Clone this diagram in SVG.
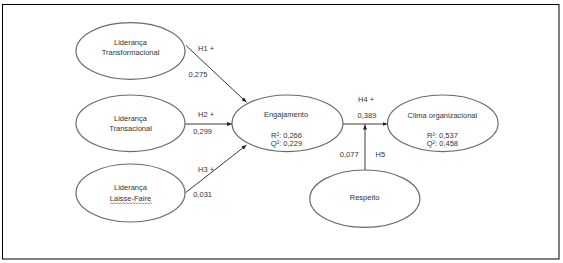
<svg xmlns="http://www.w3.org/2000/svg" width="563" height="263" viewBox="0 0 563 263">
<style>
  .node ellipse { fill: #ffffff; stroke: #6a6a6a; stroke-width: 1.2; }
  text { font-family: "Liberation Sans", Arial, sans-serif; font-size: 7.5px; fill: #333333; text-anchor: middle; }
  .edge { stroke: #3a3a3a; stroke-width: 1; fill: none; marker-end: url(#arrow); }
</style>
<defs>
  <marker id="arrow" markerUnits="userSpaceOnUse" markerWidth="5" markerHeight="4" refX="5" refY="2" orient="auto">
    <path d="M0,0 L5,2 L0,4 z" fill="#222222"/>
  </marker>
</defs>
<rect x="2.5" y="4.5" width="556.5" height="254.5" fill="#ffffff" stroke="#000000" stroke-width="1"/>

<g id="connectors">
  <line class="edge" x1="186" y1="45.5" x2="246.5" y2="102.3"/>
  <line class="edge" x1="185" y1="124" x2="232" y2="124"/>
  <line class="edge" x1="185.5" y1="192.7" x2="246.5" y2="145"/>
  <line class="edge" x1="343" y1="124" x2="387.5" y2="124"/>
  <line class="edge" x1="365" y1="170" x2="365" y2="124.5"/>
  <text x="206" y="50.5">H1 +</text>
  <text x="198" y="76.7">0,275</text>
  <text x="206" y="116.7">H2 +</text>
  <text x="202.6" y="133.7">0,299</text>
  <text x="206" y="172">H3 +</text>
  <text x="202.6" y="196.7">0,031</text>
  <text x="366" y="101.7">H4 +</text>
  <text x="367" y="118.4">0,389</text>
  <text x="349.2" y="157">0,077</text>
  <text x="380.4" y="157">H5</text>
</g>

<g id="lid-transformacional" class="node">
  <ellipse cx="130.5" cy="51" rx="54.5" ry="28.3"/>
  <text x="130.5" y="45">Liderança</text>
  <text x="130.5" y="55">Transformacional</text>
</g>
<g id="lid-transacional" class="node">
  <ellipse cx="130.5" cy="123.3" rx="54.5" ry="28.3"/>
  <text x="130.5" y="121">Liderança</text>
  <text x="130.5" y="131.4">Transacional</text>
</g>
<g id="lid-laisse-faire" class="node">
  <ellipse cx="130.5" cy="193" rx="54.5" ry="29"/>
  <text x="130.5" y="190.4">Liderança</text>
  <text x="130.5" y="201.4">Laisse-Faire</text>
  <path d="M110,203.8 l1.5,-1 l1.5,1 l1.5,-1 l1.5,1 l1.5,-1 l1.5,1 l1.5,-1 l1.5,1 l1.5,-1 l1.5,1 l1.5,-1 l1.5,1 l1.5,-1 l1.5,1 l1.5,-1 l1.5,1 l1.5,-1 l1.5,1 l1.5,-1 l1.5,1 l1.5,-1 l1.5,1 l1.5,-1 l1.5,1 l1.5,-1 l1.5,1 l1.5,-1 l1.5,1" fill="none" stroke="#e03030" stroke-width="0.6"/>
</g>
<g id="engajamento" class="node">
  <ellipse cx="287.5" cy="123.3" rx="55.5" ry="28.3"/>
  <text x="286" y="117">Engajamento</text>
  <text x="286.5" y="137.7">R²: 0,266</text>
  <text x="286.5" y="146">Q²: 0,229</text>
</g>
<g id="clima" class="node">
  <ellipse cx="442.8" cy="123.3" rx="55.3" ry="28.3"/>
  <text x="442.4" y="117.7">Clima organizacional</text>
  <text x="442.4" y="137.7">R²: 0,537</text>
  <text x="442.4" y="146">Q²: 0,458</text>
</g>
<g id="respeito" class="node">
  <ellipse cx="364.8" cy="198.7" rx="55" ry="28.7"/>
  <text x="364.6" y="200">Respeito</text>
</g>
</svg>
